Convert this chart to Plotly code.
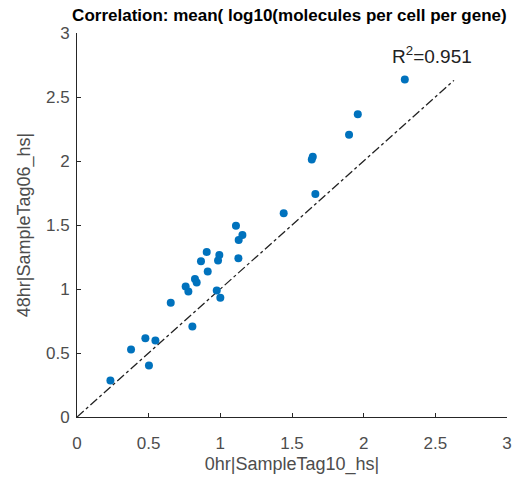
import plotly.graph_objects as go

x_vals = [2.287, 1.959, 1.898, 1.645, 1.638, 1.663, 1.442, 1.109, 1.154, 1.128,
          1.126, 0.905, 0.993, 0.984, 0.865, 0.912, 0.823, 0.835, 0.758, 0.777,
          0.975, 1.000, 0.654, 0.805, 0.477, 0.547, 0.377, 0.502, 0.233]
y_vals = [2.636, 2.366, 2.205, 2.033, 2.012, 1.742, 1.591, 1.495, 1.422, 1.383,
          1.240, 1.289, 1.266, 1.222, 1.217, 1.136, 1.079, 1.050, 1.019, 0.980,
          0.988, 0.931, 0.892, 0.707, 0.616, 0.598, 0.527, 0.403, 0.286]
line_x = [0, 2.63]
line_y = [0, 2.63]
r2_text = "R<sup>2</sup>=0.951"
tick_vals = [0, 0.5, 1, 1.5, 2, 2.5, 3]
tick_text = ["0", "0.5", "1", "1.5", "2", "2.5", "3"]

FONT = "Liberation Sans, Arial"
GRAY = "#4d4d4d"

fig = go.Figure()
fig.add_trace(go.Scatter(x=line_x, y=line_y, mode="lines",
                         line=dict(color="#222222", width=1.3, dash="dashdot"),
                         showlegend=False, hoverinfo="skip"))
fig.add_trace(go.Scatter(x=x_vals, y=y_vals, mode="markers",
                         marker=dict(color="#0072BD", size=8, line=dict(width=0)),
                         showlegend=False))

fig.add_annotation(x=2.48, y=2.83, text=r2_text, showarrow=False,
                   font=dict(family=FONT, size=19, color="#222222"))

axis_common = dict(range=[0, 3], tickvals=tick_vals, ticktext=tick_text,
                   showgrid=False, zeroline=False, showline=True, automargin=False,
                   linecolor="#262626", linewidth=1, ticks="inside", ticklen=4,
                   tickcolor="#262626",
                   tickfont=dict(family=FONT, size=17, color=GRAY))

fig.update_layout(
    width=525, height=477,
    margin=dict(l=69, r=26, t=25, b=68),
    paper_bgcolor="white", plot_bgcolor="white",
    title=dict(text="<b>Correlation: mean( log10(molecules per cell per gene)</b>",
               x=0.536, xanchor="center", y=0.997, yanchor="top",
               font=dict(family=FONT, size=17, color="#000000")),
    xaxis=dict(**axis_common, ticklabelstandoff=11,
               title=dict(text="0hr|SampleTag10_hs|", standoff=4,
                          font=dict(family=FONT, size=18, color=GRAY))),
    yaxis=dict(**axis_common, ticklabelstandoff=3,
               title=dict(text="48hr|SampleTag06_hs|", standoff=10,
                          font=dict(family=FONT, size=18, color=GRAY))),
)

fig.write_html("out.html")
